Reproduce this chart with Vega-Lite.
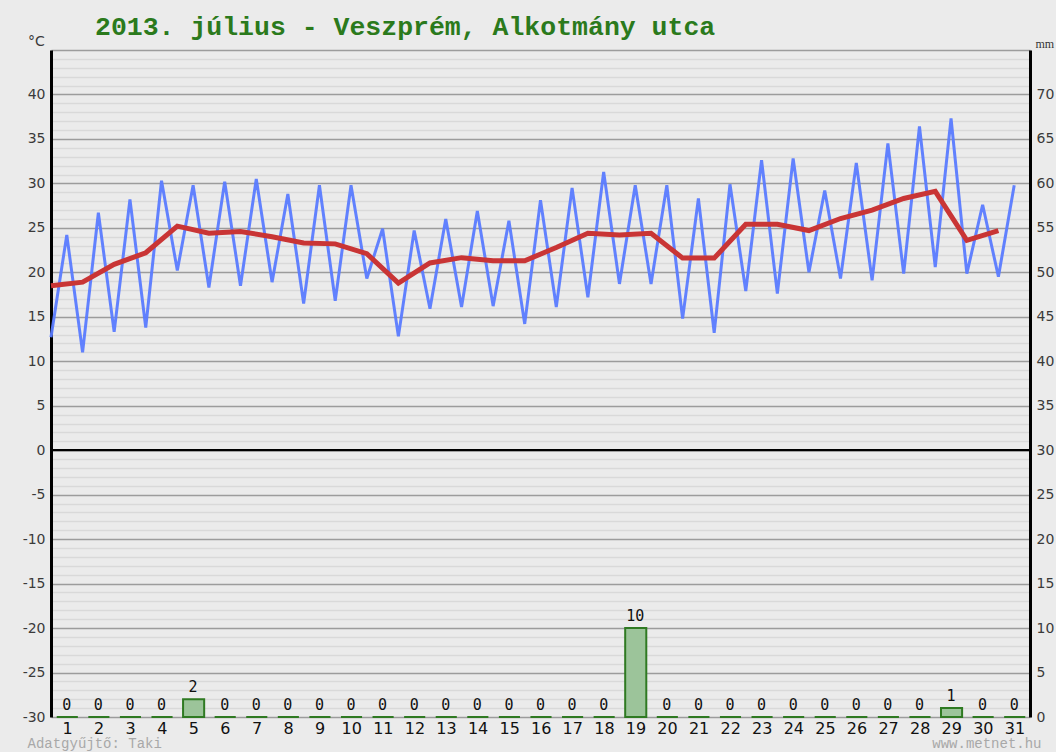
{
  "$schema": "https://vega.github.io/schema/vega-lite/v6.json",
  "autosize": "none",
  "width": 979,
  "height": 667,
  "padding": {"left": 51, "top": 50, "right": 26, "bottom": 35},
  "background": "#ebebeb",
  "config": {"view": {"stroke": null}},
  "title": {
    "text": "2013. július - Veszprém, Alkotmány utca",
    "anchor": "start",
    "frame": "group",
    "dx": 44,
    "offset": -6,
    "font": "Liberation Mono",
    "fontSize": 26.5,
    "fontWeight": "bold",
    "color": "#2b7a1c"
  },
  "datasets": {
    "temps": [
      {"time": "2013-07-01T00:00", "temp": 12.7}, {"time": "2013-07-01T12:00", "temp": 24.2},
      {"time": "2013-07-02T00:00", "temp": 11.0}, {"time": "2013-07-02T12:00", "temp": 26.7},
      {"time": "2013-07-03T00:00", "temp": 13.3}, {"time": "2013-07-03T12:00", "temp": 28.2},
      {"time": "2013-07-04T00:00", "temp": 13.8}, {"time": "2013-07-04T12:00", "temp": 30.3},
      {"time": "2013-07-05T00:00", "temp": 20.2}, {"time": "2013-07-05T12:00", "temp": 29.8},
      {"time": "2013-07-06T00:00", "temp": 18.3}, {"time": "2013-07-06T12:00", "temp": 30.2},
      {"time": "2013-07-07T00:00", "temp": 18.5}, {"time": "2013-07-07T12:00", "temp": 30.5},
      {"time": "2013-07-08T00:00", "temp": 18.9}, {"time": "2013-07-08T12:00", "temp": 28.8},
      {"time": "2013-07-09T00:00", "temp": 16.5}, {"time": "2013-07-09T12:00", "temp": 29.8},
      {"time": "2013-07-10T00:00", "temp": 16.8}, {"time": "2013-07-10T12:00", "temp": 29.8},
      {"time": "2013-07-11T00:00", "temp": 19.3}, {"time": "2013-07-11T12:00", "temp": 24.9},
      {"time": "2013-07-12T00:00", "temp": 12.8}, {"time": "2013-07-12T12:00", "temp": 24.7},
      {"time": "2013-07-13T00:00", "temp": 15.9}, {"time": "2013-07-13T12:00", "temp": 26.0},
      {"time": "2013-07-14T00:00", "temp": 16.1}, {"time": "2013-07-14T12:00", "temp": 26.9},
      {"time": "2013-07-15T00:00", "temp": 16.2}, {"time": "2013-07-15T12:00", "temp": 25.8},
      {"time": "2013-07-16T00:00", "temp": 14.2}, {"time": "2013-07-16T12:00", "temp": 28.1},
      {"time": "2013-07-17T00:00", "temp": 16.1}, {"time": "2013-07-17T12:00", "temp": 29.5},
      {"time": "2013-07-18T00:00", "temp": 17.2}, {"time": "2013-07-18T12:00", "temp": 31.3},
      {"time": "2013-07-19T00:00", "temp": 18.7}, {"time": "2013-07-19T12:00", "temp": 29.8},
      {"time": "2013-07-20T00:00", "temp": 18.7}, {"time": "2013-07-20T12:00", "temp": 29.8},
      {"time": "2013-07-21T00:00", "temp": 14.8}, {"time": "2013-07-21T12:00", "temp": 28.3},
      {"time": "2013-07-22T00:00", "temp": 13.2}, {"time": "2013-07-22T12:00", "temp": 29.9},
      {"time": "2013-07-23T00:00", "temp": 17.9}, {"time": "2013-07-23T12:00", "temp": 32.6},
      {"time": "2013-07-24T00:00", "temp": 17.6}, {"time": "2013-07-24T12:00", "temp": 32.8},
      {"time": "2013-07-25T00:00", "temp": 20.0}, {"time": "2013-07-25T12:00", "temp": 29.2},
      {"time": "2013-07-26T00:00", "temp": 19.3}, {"time": "2013-07-26T12:00", "temp": 32.3},
      {"time": "2013-07-27T00:00", "temp": 19.1}, {"time": "2013-07-27T12:00", "temp": 34.5},
      {"time": "2013-07-28T00:00", "temp": 19.85}, {"time": "2013-07-28T12:00", "temp": 36.4},
      {"time": "2013-07-29T00:00", "temp": 20.6}, {"time": "2013-07-29T12:00", "temp": 37.3},
      {"time": "2013-07-30T00:00", "temp": 19.85}, {"time": "2013-07-30T12:00", "temp": 27.6},
      {"time": "2013-07-31T00:00", "temp": 19.5}, {"time": "2013-07-31T12:00", "temp": 29.8}
    ],
    "daily": [
      {"date": "2013-07-01T00:00", "mean": 18.5, "precip": 0},
      {"date": "2013-07-02T00:00", "mean": 18.9, "precip": 0},
      {"date": "2013-07-03T00:00", "mean": 20.9, "precip": 0},
      {"date": "2013-07-04T00:00", "mean": 22.2, "precip": 0},
      {"date": "2013-07-05T00:00", "mean": 25.2, "precip": 2},
      {"date": "2013-07-06T00:00", "mean": 24.4, "precip": 0},
      {"date": "2013-07-07T00:00", "mean": 24.6, "precip": 0},
      {"date": "2013-07-08T00:00", "mean": 24.0, "precip": 0},
      {"date": "2013-07-09T00:00", "mean": 23.3, "precip": 0},
      {"date": "2013-07-10T00:00", "mean": 23.2, "precip": 0},
      {"date": "2013-07-11T00:00", "mean": 22.1, "precip": 0},
      {"date": "2013-07-12T00:00", "mean": 18.8, "precip": 0},
      {"date": "2013-07-13T00:00", "mean": 21.05, "precip": 0},
      {"date": "2013-07-14T00:00", "mean": 21.65, "precip": 0},
      {"date": "2013-07-15T00:00", "mean": 21.3, "precip": 0},
      {"date": "2013-07-16T00:00", "mean": 21.3, "precip": 0},
      {"date": "2013-07-17T00:00", "mean": 22.8, "precip": 0},
      {"date": "2013-07-18T00:00", "mean": 24.4, "precip": 0},
      {"date": "2013-07-19T00:00", "mean": 24.2, "precip": 10},
      {"date": "2013-07-20T00:00", "mean": 24.4, "precip": 0},
      {"date": "2013-07-21T00:00", "mean": 21.6, "precip": 0},
      {"date": "2013-07-22T00:00", "mean": 21.6, "precip": 0},
      {"date": "2013-07-23T00:00", "mean": 25.4, "precip": 0},
      {"date": "2013-07-24T00:00", "mean": 25.4, "precip": 0},
      {"date": "2013-07-25T00:00", "mean": 24.7, "precip": 0},
      {"date": "2013-07-26T00:00", "mean": 26.05, "precip": 0},
      {"date": "2013-07-27T00:00", "mean": 27.0, "precip": 0},
      {"date": "2013-07-28T00:00", "mean": 28.3, "precip": 0},
      {"date": "2013-07-29T00:00", "mean": 29.1, "precip": 1},
      {"date": "2013-07-30T00:00", "mean": 23.6, "precip": 0},
      {"date": "2013-07-31T00:00", "mean": 24.7, "precip": 0}
    ]
  },
  "resolve": {"scale": {"y": "independent"}, "axis": {"x": "independent"}},
  "layer": [
    {
      "layer": [
        {
          "data": {"name": "temps"},
          "mark": {"type": "line", "color": "#5a7bff", "strokeWidth": 3, "strokeJoin": "miter", "opacity": 0.95},
          "encoding": {
            "x": {
              "field": "time", "type": "temporal",
              "scale": {"domain": [{"year": 2013, "month": 7, "date": 1}, {"year": 2013, "month": 8, "date": 1}], "nice": false},
              "axis": {
                "orient": "bottom",
                "tickCount": {"interval": "day", "step": 1},
                "format": "%-d",
                "labelExpr": "month(datum.value) == 7 ? '' : datum.label",
                "labelOffset": 16,
                "labelOverlap": false,
                "labelFont": "DejaVu Sans",
                "labelFontSize": 16,
                "labelColor": "#111",
                "labelPadding": 3,
                "labelAlign": "center",
                "labelFlush": false,
                "ticks": false,
                "domain": false,
                "grid": false,
                "title": "Adatgyűjtő: Taki",
                "titleFont": "Liberation Mono",
                "titleFontSize": 14,
                "titleFontWeight": "normal",
                "titleColor": "#a8a8a8",
                "titleAnchor": null,
                "titleAlign": "left",
                "titleX": -24,
                "titleY": 30,
                "titleBaseline": "alphabetic"
              }
            },
            "y": {
              "field": "temp", "type": "quantitative",
              "scale": {"domain": [-30, 45], "nice": false, "zero": false},
              "axis": {
                "tickCount": 75,
                "tickMinStep": 1,
                "grid": true,
                "gridColor": {"condition": {"test": "datum.value % 5 === 0", "value": "#9c9c9c"}, "value": "#d9d9d9"},
                "gridWidth": 1.5,
                "labelExpr": "datum.value % 5 === 0 && datum.value < 45 ? '' + datum.value : ''",
                "labelOverlap": false,
                "labelFont": "DejaVu Sans",
                "labelFontSize": 14,
                "labelColor": "#3a3a3a",
                "labelPadding": 6,
                "ticks": false,
                "domain": true,
                "domainColor": "#000",
                "domainWidth": 3,
                "title": "°C",
                "titleAngle": 0,
                "titleFont": "DejaVu Sans",
                "titleFontSize": 14,
                "titleFontWeight": "normal",
                "titleColor": "#3a3a3a",
                "titleAlign": "center",
                "titleX": -15,
                "titleY": -5,
                "titleBaseline": "alphabetic"
              }
            }
          }
        },
        {
          "data": {"name": "daily"},
          "mark": {"type": "line", "color": "#c93535", "strokeWidth": 5, "strokeJoin": "miter"},
          "encoding": {
            "x": {"field": "date", "type": "temporal"},
            "y": {"field": "mean", "type": "quantitative"}
          }
        },
        {
          "data": {"values": [{"level": 0}]},
          "mark": {"type": "rule", "color": "#000000", "strokeWidth": 2.2},
          "encoding": {"y": {"field": "level", "type": "quantitative"}}
        }
      ]
    },
    {
      "data": {"name": "daily"},
      "layer": [
        {
          "mark": {"type": "bar", "width": {"band": 0.7}, "fill": "#9cc49a", "stroke": "#2f7a22", "strokeWidth": 2},
          "encoding": {
            "x": {
              "field": "date", "timeUnit": "yearmonthdate", "type": "temporal",
              "axis": {
                "orient": "bottom",
                "labels": false,
                "ticks": false,
                "domain": false,
                "grid": false,
                "title": "www.metnet.hu",
                "titleFont": "Liberation Mono",
                "titleFontSize": 14,
                "titleFontWeight": "normal",
                "titleColor": "#a8a8a8",
                "titleAnchor": null,
                "titleAlign": "right",
                "titleX": 990,
                "titleY": 30,
                "titleBaseline": "alphabetic"
              }
            },
            "y": {
              "field": "precip", "type": "quantitative",
              "scale": {"domain": [0, 75], "nice": false},
              "axis": {
                "orient": "right",
                "values": [0,5,10,15,20,25,30,35,40,45,50,55,60,65,70,75],
                "labelExpr": "datum.value < 75 ? datum.label : ''",
                "labelOverlap": false,
                "labelFont": "DejaVu Sans",
                "labelFontSize": 14,
                "labelColor": "#3a3a3a",
                "labelPadding": 6,
                "ticks": false,
                "grid": false,
                "domain": true,
                "domainColor": "#000",
                "domainWidth": 3,
                "title": "mm",
                "titleAngle": 0,
                "titleFont": "Liberation Serif",
                "titleFontSize": 12,
                "titleFontWeight": "normal",
                "titleColor": "#333",
                "titleAlign": "left",
                "titleX": 5,
                "titleY": -3,
                "titleBaseline": "alphabetic"
              }
            }
          }
        },
        {
          "mark": {"type": "text", "font": "DejaVu Sans Mono", "fontSize": 15, "color": "#111", "baseline": "bottom", "dy": -4},
          "encoding": {
            "x": {"field": "date", "timeUnit": "yearmonthdate", "type": "temporal", "bandPosition": 0.5},
            "y": {"field": "precip", "type": "quantitative"},
            "text": {"field": "precip", "type": "quantitative"}
          }
        }
      ]
    }
  ]
}
